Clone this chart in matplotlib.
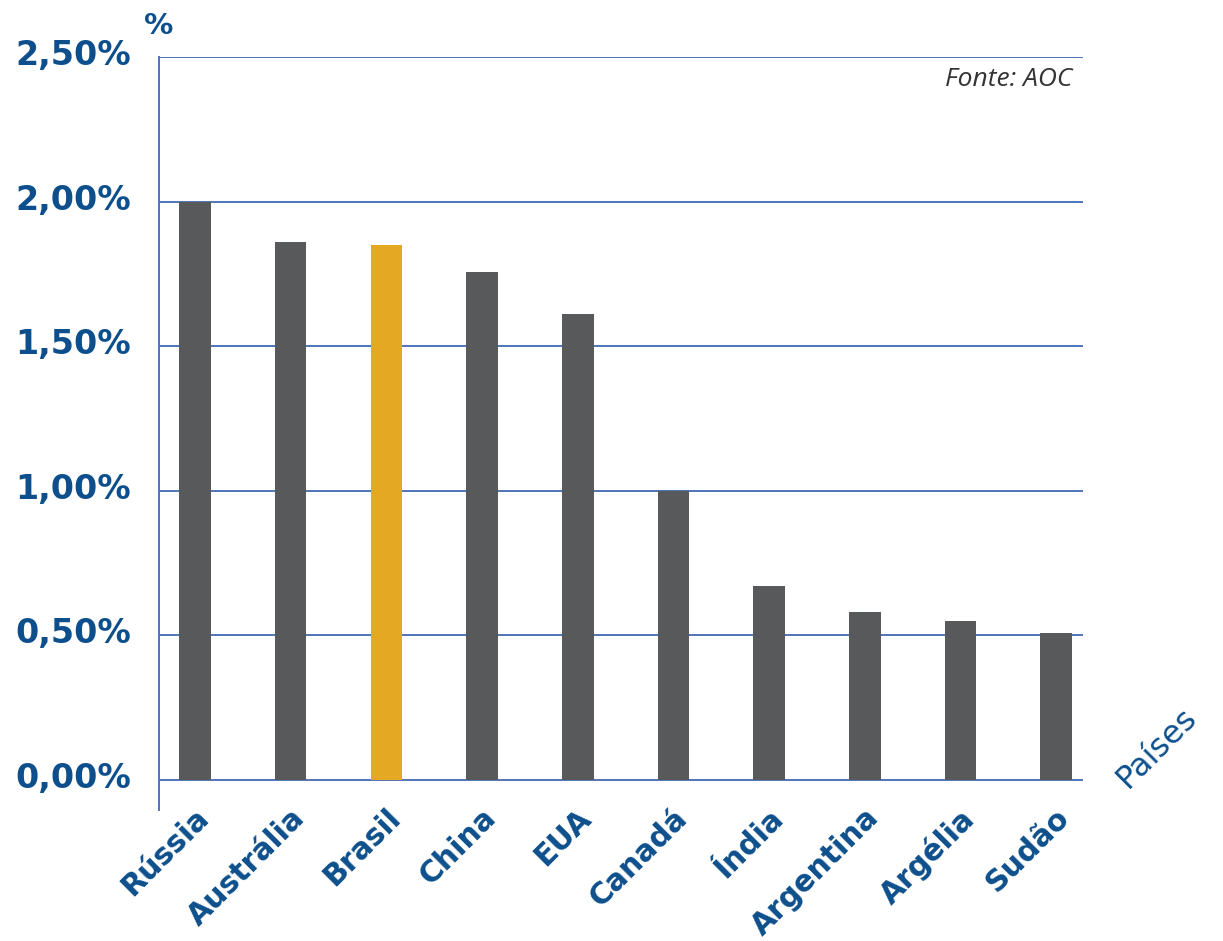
import numpy as np
import matplotlib
matplotlib.use("Agg")
import matplotlib.pyplot as plt
import matplotlib.transforms as mtransforms

# Dados
paises = ["Rússia", "Austrália", "Brasil", "China", "EUA",
          "Canadá", "Índia", "Argentina", "Argélia", "Sudão"]
valores = [2.00, 1.86, 1.85, 1.755, 1.61, 1.00, 0.67, 0.58, 0.55, 0.51]
ticks_y = [0.0, 0.5, 1.0, 1.5, 2.0, 2.5]
rotulos_y = ["0,00%", "0,50%", "1,00%", "1,50%", "2,00%", "2,50%"]

AZUL = "#0d4f8c"
GRADE = "#4f74b8"
CINZA = "#58595b"
OURO = "#e4a823"

fig = plt.figure(figsize=(12.23, 9.41), dpi=100)
ax = fig.add_axes([0.130, 0.1392, 0.7555, 0.8002])

x = np.arange(len(paises))
cores = [OURO if p == "Brasil" else CINZA for p in paises]
ax.bar(x, valores, width=0.33, color=cores, zorder=2)

for t in ticks_y:
    ax.axhline(t, color=GRADE, lw=1.4, zorder=1)

ax.set_xlim(-0.376, 9.28)
ax.set_ylim(-0.1036, 2.5)

for s in ["top", "right", "bottom"]:
    ax.spines[s].set_visible(False)
ax.spines["left"].set_color(GRADE)
ax.spines["left"].set_linewidth(1.4)

ax.set_yticks(ticks_y)
ax.set_yticklabels(rotulos_y, fontsize=24, fontweight="bold", color=AZUL)
ax.tick_params(axis="y", length=0, pad=20)
for lab in ax.get_yticklabels():
    lab.set_transform(lab.get_transform() +
                      mtransforms.ScaledTranslation(0, 5 / 100, fig.dpi_scale_trans))

ax.set_xticks(x)
ax.set_xticklabels(paises, fontsize=21.5, fontweight="bold", color=AZUL,
                   rotation=45, ha="right", va="top", rotation_mode="anchor")
ax.tick_params(axis="x", length=0, pad=0)
off = mtransforms.ScaledTranslation(-1 / 100, 7 / 100, fig.dpi_scale_trans)
for lab in ax.get_xticklabels():
    lab.set_transform(lab.get_transform() + off)

fig.text(144 / 1223, 1 - 26 / 941, "%", fontsize=21, fontweight="bold",
         color=AZUL, ha="left", va="center")
fig.text(1072 / 1223, 1 - 80 / 941, "Fonte: AOC", fontsize=19,
         family="Open Sans", style="italic", color="#333333",
         ha="right", va="center")
fig.text(1157 / 1223, 1 - 748 / 941, "Países", fontsize=23, rotation=45,
         color=AZUL, ha="center", va="center")

fig.savefig("out.png", dpi=100)
